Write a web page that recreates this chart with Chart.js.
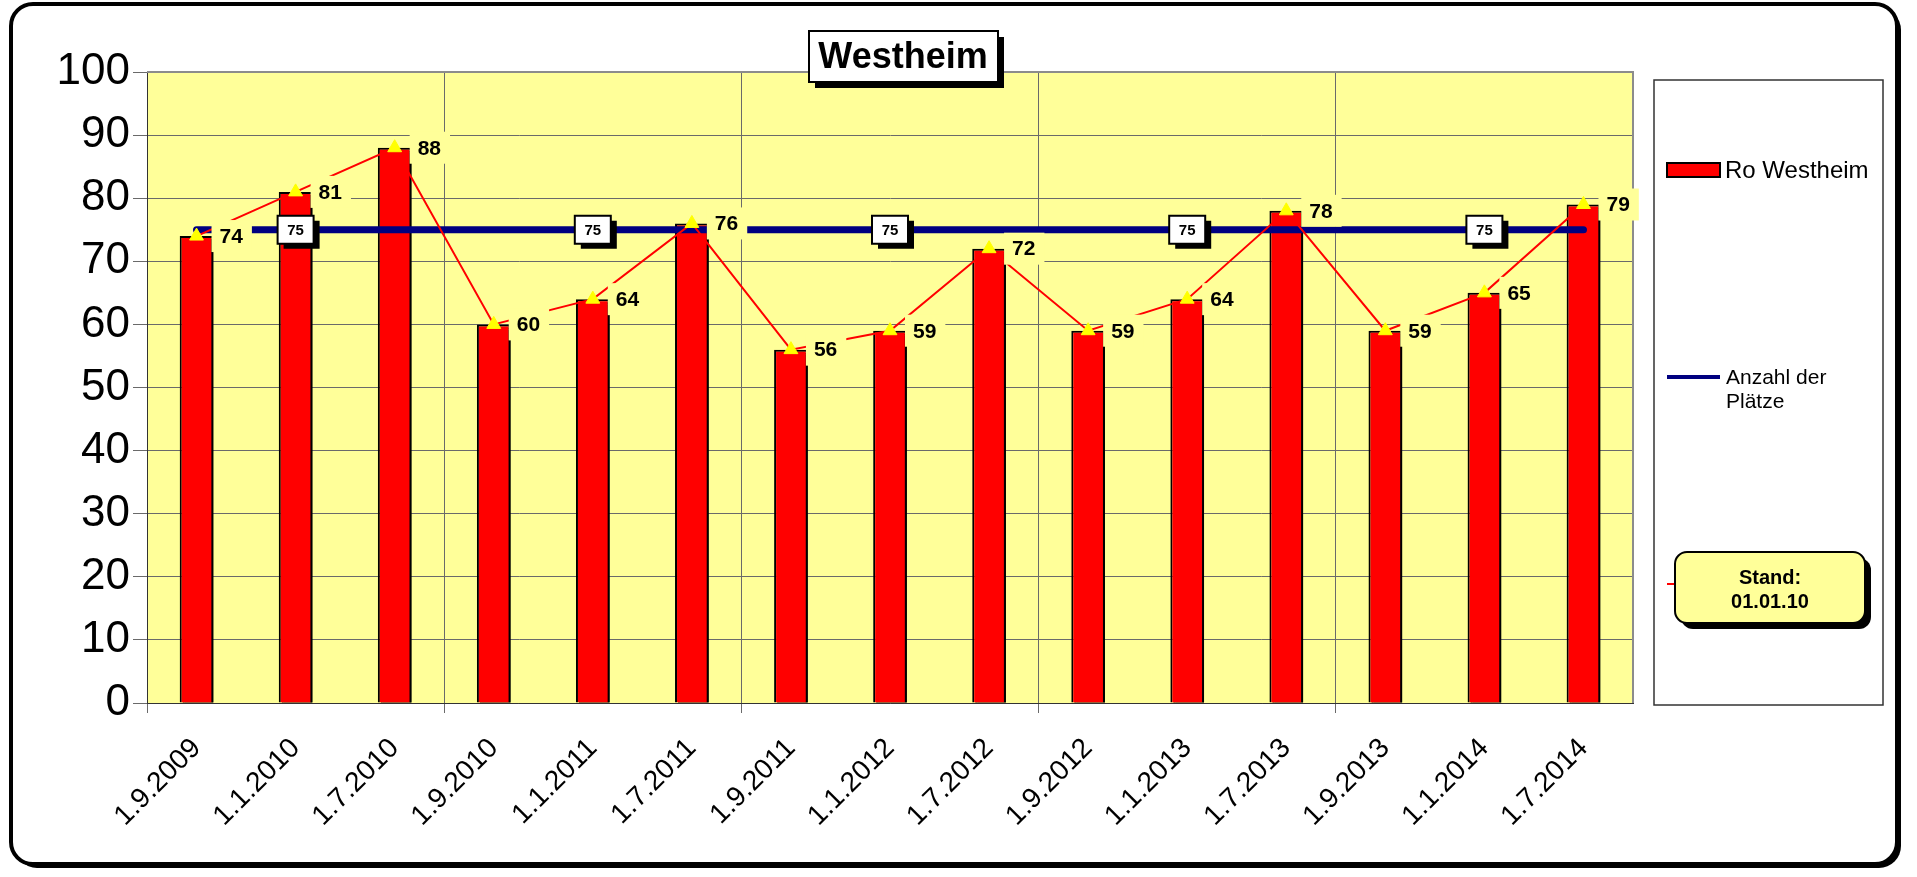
<!DOCTYPE html>
<html>
<head>
<meta charset="utf-8">
<script src="https://cdn.jsdelivr.net/npm/chart.js@4.4.1/dist/chart.umd.min.js"></script>
<style>
  body { margin: 0; background: #fff; }
  #wrap { width: 1917px; height: 877px; }
</style>
</head>
<body>
<div id="wrap"><canvas id="grafico" width="1917" height="877"></canvas></div>
<script>
const FONT = "'Liberation Sans', Arial, sans-serif";
const titel = 'Westheim';
const stichtage = ['1.9.2009', '1.1.2010', '1.7.2010', '1.9.2010', '1.1.2011', '1.7.2011', '1.9.2011',
  '1.1.2012', '1.7.2012', '1.9.2012', '1.1.2013', '1.7.2013', '1.9.2013', '1.1.2014', '1.7.2014'];
const belegung = [74, 81, 88, 60, 64, 76, 56, 59, 72, 59, 64, 78, 59, 65, 79];
const plaetze = [75, 75, 75, 75, 75, 75, 75, 75, 75, 75, 75, 75, 75, 75, 75];
const standText = ['Stand:', '01.01.10'];

Chart.defaults.font.family = FONT;

// white page, rounded frame, yellow plot background
const hintergrund = {
  id: 'hintergrund',
  beforeDraw(chart) {
    const { ctx, chartArea: a } = chart;
    ctx.save();
    ctx.fillStyle = '#fff';
    ctx.fillRect(0, 0, chart.width, chart.height);
    ctx.fillStyle = '#000';
    ctx.beginPath(); ctx.roundRect(15, 8, 1886, 860, 22); ctx.fill();
    ctx.fillStyle = '#fff';
    ctx.beginPath(); ctx.roundRect(11, 4, 1886, 860, 22); ctx.fill();
    ctx.lineWidth = 4; ctx.strokeStyle = '#000'; ctx.stroke();
    ctx.fillStyle = '#ffff99';
    ctx.fillRect(a.left, a.top, a.width, a.height);
    ctx.restore();
  },
  beforeDatasetsDraw(chart) {
    const { ctx, chartArea: a } = chart;
    ctx.save();
    ctx.strokeStyle = '#8c8c8c'; ctx.lineWidth = 2;
    ctx.beginPath();
    ctx.moveTo(a.left, a.top); ctx.lineTo(a.right, a.top); ctx.lineTo(a.right, a.bottom);
    ctx.stroke();
    ctx.restore();
  },
  // shadow behind the bars
  beforeDatasetDraw(chart, args) {
    if (args.index !== 0) return;
    const ctx = chart.ctx;
    ctx.save();
    ctx.shadowColor = '#000'; ctx.shadowBlur = 0;
    ctx.shadowOffsetX = 3; ctx.shadowOffsetY = 3;
  },
  afterDatasetDraw(chart, args) {
    if (args.index === 0) chart.ctx.restore();
  }
};

const werte = {
  id: 'werte',
  afterDatasetsDraw(chart) {
    const ctx = chart.ctx;
    ctx.save();
    // labels of the red line
    const meta = chart.getDatasetMeta(2);
    ctx.font = 'bold 21px ' + FONT;
    ctx.textBaseline = 'middle';
    ctx.textAlign = 'left';
    meta.data.forEach((p, i) => {
      const txt = String(chart.data.datasets[2].data[i]);
      const w = ctx.measureText(txt).width;
      ctx.fillStyle = '#ffff99';
      ctx.fillRect(p.x + 15, p.y - 16, w + 17, 32);
      ctx.fillStyle = '#000';
      ctx.fillText(txt, p.x + 23, p.y + 1);
    });
    // boxed labels on the blue line
    const nav = chart.getDatasetMeta(1);
    ctx.font = 'bold 15px ' + FONT;
    ctx.textAlign = 'center';
    nav.data.forEach((p, i) => {
      if (i % 3 !== 1) return;
      ctx.fillStyle = '#000';
      ctx.fillRect(p.x - 18 + 6, p.y - 14 + 5, 36, 28);
      ctx.fillStyle = '#fff';
      ctx.fillRect(p.x - 18, p.y - 14, 36, 28);
      ctx.lineWidth = 2; ctx.strokeStyle = '#000';
      ctx.strokeRect(p.x - 18, p.y - 14, 36, 28);
      ctx.fillStyle = '#000';
      ctx.fillText(String(chart.data.datasets[1].data[i]), p.x, p.y + 1);
    });
    ctx.restore();
  },
  afterDraw(chart) {
    const ctx = chart.ctx;
    ctx.save();
    // title box
    ctx.fillStyle = '#000'; ctx.fillRect(815, 37, 189, 51);
    ctx.fillStyle = '#fff'; ctx.fillRect(809, 31, 189, 51);
    ctx.lineWidth = 2; ctx.strokeStyle = '#000'; ctx.strokeRect(809, 31, 189, 51);
    ctx.fillStyle = '#000';
    ctx.font = 'bold 36px ' + FONT;
    ctx.textAlign = 'center'; ctx.textBaseline = 'middle';
    ctx.fillText(titel, 903, 58);

    // legend
    const ds = chart.data.datasets;
    ctx.lineWidth = 1.5; ctx.strokeStyle = '#333';
    ctx.strokeRect(1654, 80, 229, 625);
    ctx.textAlign = 'left';
    ctx.font = '24px ' + FONT;
    ctx.fillStyle = ds[0].backgroundColor;
    ctx.fillRect(1667, 163, 53, 14);
    ctx.lineWidth = 2; ctx.strokeStyle = '#000';
    ctx.strokeRect(1667, 163, 53, 14);
    ctx.fillStyle = '#000';
    ctx.fillText(ds[0].label, 1725, 171);

    ctx.strokeStyle = ds[1].borderColor; ctx.lineWidth = 4;
    ctx.beginPath(); ctx.moveTo(1667, 377); ctx.lineTo(1720, 377); ctx.stroke();
    ctx.fillStyle = '#000';
    ctx.font = '21px ' + FONT;
    ctx.fillText('Anzahl der', 1726, 378);
    ctx.fillText('Plätze', 1726, 402);

    ctx.strokeStyle = ds[2].borderColor; ctx.lineWidth = 2;
    ctx.beginPath(); ctx.moveTo(1667, 584); ctx.lineTo(1720, 584); ctx.stroke();

    // "Stand" note
    ctx.fillStyle = '#000';
    ctx.beginPath(); ctx.roundRect(1681, 558, 190, 71, 12); ctx.fill();
    ctx.fillStyle = '#ffff99';
    ctx.beginPath(); ctx.roundRect(1675, 552, 190, 71, 12); ctx.fill();
    ctx.lineWidth = 2; ctx.strokeStyle = '#000'; ctx.stroke();
    ctx.fillStyle = '#000';
    ctx.font = 'bold 20px ' + FONT;
    ctx.textAlign = 'center';
    ctx.fillText(standText[0], 1770, 578);
    ctx.fillText(standText[1], 1770, 602);
    ctx.restore();
  }
};

const gitterFarbe = c => (c.index % 3 === 0 ? '#6a6a6a' : 'rgba(0,0,0,0)');

new Chart(document.getElementById('grafico'), {
  type: 'bar',
  data: {
    labels: stichtage,
    datasets: [
      {
        type: 'bar',
        label: 'Ro Westheim',
        data: belegung,
        backgroundColor: '#ff0000',
        borderColor: '#000',
        borderWidth: 2,
        barPercentage: 0.34,
        categoryPercentage: 1,
        order: 3
      },
      {
        type: 'line',
        label: 'Anzahl der Plätze',
        data: plaetze,
        borderColor: '#000080',
        borderWidth: 7,
        borderCapStyle: 'round',
        pointRadius: 0,
        order: 2
      },
      {
        type: 'line',
        label: 'Belegung',
        data: belegung,
        borderColor: '#ff0000',
        borderWidth: 2,
        pointStyle: 'triangle',
        pointRadius: 8,
        pointBackgroundColor: '#ffff00',
        pointBorderColor: '#ffff00',
        pointBorderWidth: 1,
        order: 1
      }
    ]
  },
  options: {
    responsive: false,
    animation: false,
    layout: { padding: { left: 0, top: 72, right: 284, bottom: 14 } },
    plugins: {
      legend: { display: false },
      title: { display: false },
      tooltip: { enabled: false }
    },
    scales: {
      x: {
        offset: true,
        grid: { offset: true, color: gitterFarbe, tickColor: gitterFarbe, tickLength: 10, lineWidth: 1 },
        border: { color: '#333', width: 1 },
        ticks: { color: '#000', font: { size: 28 }, maxRotation: 45, minRotation: 45, padding: 19, autoSkip: false },
        afterFit: s => { s.height = 160; }
      },
      y: {
        min: 0,
        max: 100,
        grid: { color: '#6a6a6a', tickColor: '#6a6a6a', tickLength: 14, lineWidth: 1 },
        border: { color: '#333', width: 1 },
        ticks: { stepSize: 10, color: '#000', font: { size: 44 }, padding: 3 },
        afterFit: s => { s.width = 147; }
      }
    }
  },
  plugins: [hintergrund, werte]
});
</script>
</body>
</html>
